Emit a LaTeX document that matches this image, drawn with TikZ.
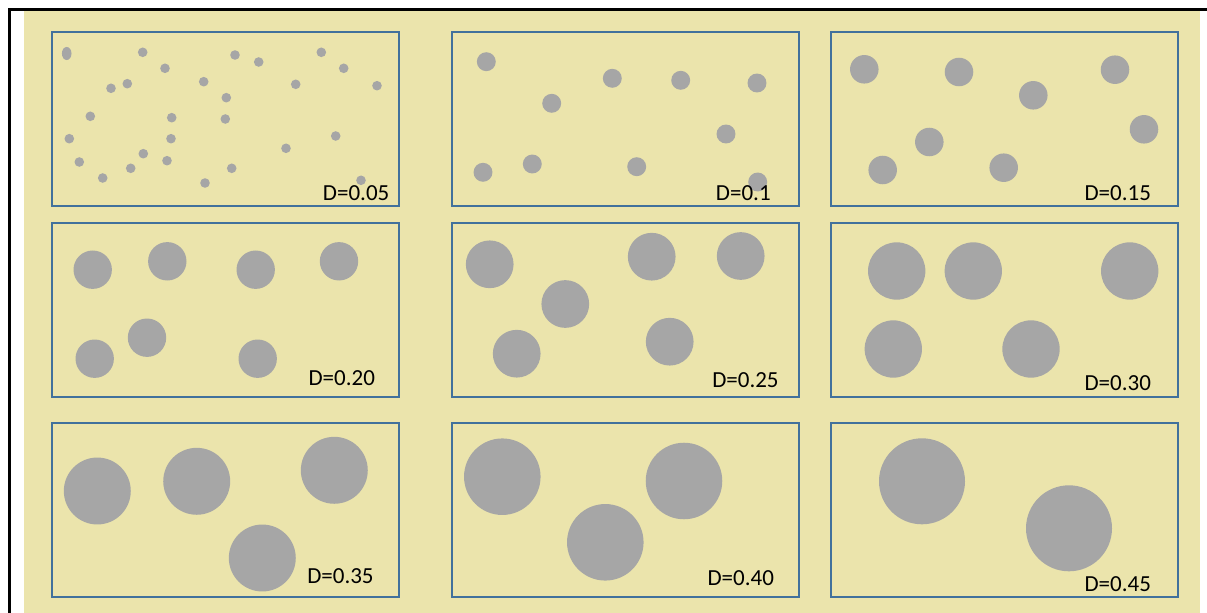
\documentclass[tikz,border=0pt]{standalone}
\usepackage{fontspec}
\setmainfont{Carlito}
\definecolor{bgyellow}{RGB}{235,228,172}
\definecolor{dotgray}{RGB}{166,166,166}
\definecolor{panelblue}{RGB}{65,113,156}
\tikzset{
  panel/.style={draw=panelblue,line width=1.5pt,minimum width=347*0.75pt,minimum height=174*0.75pt,anchor=north west,inner sep=0pt},
  dot/.style={fill=dotgray},
  dlabel/.style={anchor=base west,inner sep=0pt,text=black,font=\fontsize{17.25}{20}\selectfont},
}
\begin{document}
\begin{tikzpicture}[x=0.75pt,y=-0.75pt]
\useasboundingbox (0,0) rectangle (1207,613);
% background
\fill[bgyellow] (24,10.7) rectangle (1200,613);
\draw[black,line width=2pt] (9.3,613) -- (9.3,9.3) -- (1207,9.3);
% panels
\node[panel] (p1) at (51,31.5) {};
\node[panel] (p2) at (450.5,31.5) {};
\node[panel] (p3) at (830,31.5) {};
\node[panel] (p4) at (51,222) {};
\node[panel] (p5) at (450.5,222) {};
\node[panel] (p6) at (830,222) {};
\node[panel] (p7) at (51,422) {};
\node[panel] (p8) at (450.5,422) {};
\node[panel] (p9) at (830,422) {};
% panel 1 dots
\fill[dot] (66.7,53.5) ellipse[x radius=3.6pt,y radius=4.9pt];
\foreach \a/\b in {142.7/52.3,235/55,258.7/62,321.3/52.3,343.7/68.3,165/68.3,111/88.3,127.3/83.7,203.7/81.7,295.7/84.3,377/85.7,226.3/97.7,90.3/116.3,171.7/117.7,225.3/119,69.3/138.7,171/138.7,335.7/136,286/148.3,143.3/153.7,79.3/162,167/160.7,130.7/168.3,231.7/168.3,102.7/178,205/183,361/180.3}
  \fill[dot] (\a,\b) circle[radius=3.6pt];
% panel 2
\foreach \a/\b in {486.3/61.7,612.3/78.3,680.7/80.3,757/83,551.7/103.3,726/134,483/172.3,532.3/164,636.7/166.7,757.7/182}
  \fill[dot] (\a,\b) circle[radius=7.1pt];
% panel 3
\foreach \a/\b in {864.3/69.3,959/72,1115/69.7,1033.3/95.3,1144/129.3,929.3/142,882.7/170,1003.7/167.7}
  \fill[dot] (\a,\b) circle[radius=10.7pt];
% panel 4
\foreach \a/\b in {92.7/269.7,167.3/261.3,255.7/269.7,339/261.3,94.7/358.7,147/337.7,257.7/358.7}
  \fill[dot] (\a,\b) circle[radius=14.4pt];
% panel 5
\foreach \a/\b in {489.7/264.3,651.7/256.7,740.7/256,565.3/304,516.7/353.7,669.7/341.7}
  \fill[dot] (\a,\b) circle[radius=17.9pt];
% panel 6
\foreach \a/\b in {896.7/271,973.3/271,1129.7/271,893.3/349,1031/349}
  \fill[dot] (\a,\b) circle[radius=21.5pt];
% panel 7
\foreach \a/\b in {97.3/491,196.7/481.3,334.3/470.3,262.3/558}
  \fill[dot] (\a,\b) circle[radius=25.1pt];
% panel 8
\foreach \a/\b in {502.3/476.7,684/481,605.3/542.3}
  \fill[dot] (\a,\b) circle[radius=28.7pt];
% panel 9
\foreach \a/\b in {922/481.3,1069/528.3}
  \fill[dot] (\a,\b) circle[radius=32.25pt];
% labels
\node[dlabel] (l1) at (322.7,200) {D=0.05};
\node[dlabel] (l2) at (715.7,200) {D=0.1};
\node[dlabel] (l3) at (1084.3,200) {D=0.15};
\node[dlabel] (l4) at (308.3,385.7) {D=0.20};
\node[dlabel] (l5) at (712,387.7) {D=0.25};
\node[dlabel] (l6) at (1084.3,390) {D=0.30};
\node[dlabel] (l7) at (307,583.3) {D=0.35};
\node[dlabel] (l8) at (707.3,585) {D=0.40};
\node[dlabel] (l9) at (1084.3,591) {D=0.45};
\end{tikzpicture}
\end{document}
